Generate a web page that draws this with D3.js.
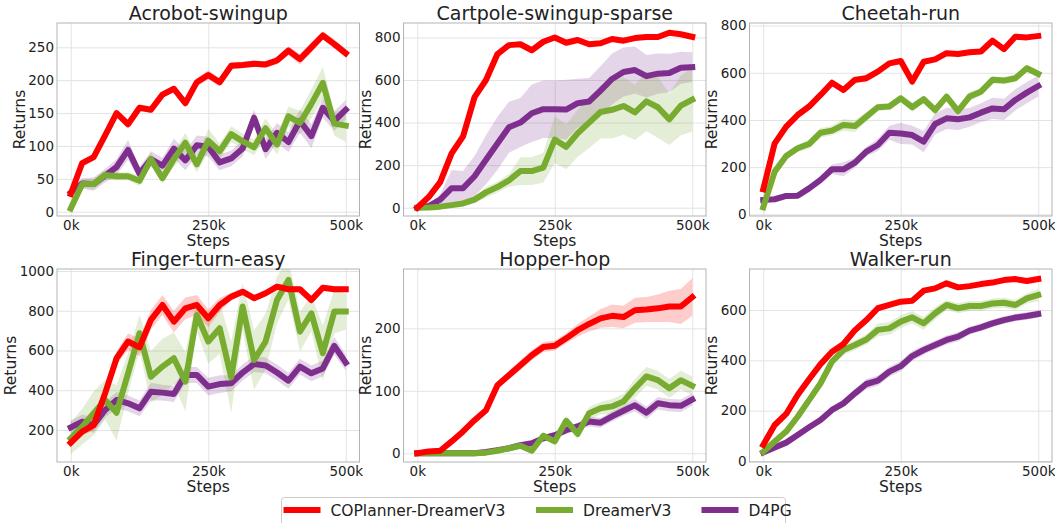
<!DOCTYPE html>
<html>
<head>
<meta charset="utf-8">
<script src="https://cdn.jsdelivr.net/npm/d3@7"></script>
<style>
  html, body { margin: 0; padding: 0; background: #fff; }
  svg { display: block; font-family: "DejaVu Sans", sans-serif; font-weight: 400; }
  text { font-family: "DejaVu Sans", sans-serif; font-weight: 400; }
</style>
</head>
<body>
<svg id="chart" width="1055" height="523"></svg>
<script>
// Evaluation steps (thousands of environment steps)
const steps = [0, 20.8, 41.7, 62.5, 83.3, 104.2, 125, 145.8, 166.7, 187.5, 208.3, 229.2, 250,
  270.8, 291.7, 312.5, 333.3, 354.2, 375, 395.8, 416.7, 437.5, 458.3, 479.2, 500];
const xTicks = [0, 250, 500];
const xTickLabels = ["0k", "250k", "500k"];

const methods = ["COPlanner-DreamerV3", "DreamerV3", "D4PG"];
const methodColors = ["#ff0000", "#77ac30", "#7e2f8e"];

const tasks = ["Acrobot-swingup", "Cartpole-swingup-sparse", "Cheetah-run",
  "Finger-turn-easy", "Hopper-hop", "Walker-run"];

// Mean returns and spread (half-width of shaded region) per task and method
const acrobotCOP     = [27, 74, 83, 116, 150, 133, 158, 155, 178, 187, 165, 197, 208, 197, 222, 223, 225, 224, 230, 245, 232, 250, 268, 255, 241];
const acrobotCOPSd   = [4, 5, 5, 6, 6, 6, 5, 5, 5, 5, 5, 6, 7, 6, 6, 5, 5, 5, 6, 7, 8, 8, 6, 7, 7];
const acrobotDV3     = [5, 42, 42, 56, 54, 54, 47, 80, 51, 80, 105, 72, 108, 92, 118, 107, 98, 127, 102, 145, 135, 164, 196, 134, 131];
const acrobotDV3Sd   = [4, 6, 8, 8, 6, 6, 8, 10, 8, 12, 15, 12, 18, 12, 12, 12, 12, 15, 15, 15, 18, 22, 24, 18, 25];
const acrobotD4PG    = [29, 43, 42, 55, 68, 94, 58, 80, 70, 96, 78, 101, 99, 75, 81, 96, 143, 95, 120, 106, 138, 115, 158, 138, 155];
const acrobotD4PGSd  = [6, 8, 10, 10, 12, 15, 10, 12, 12, 15, 15, 15, 15, 12, 12, 12, 12, 15, 15, 15, 18, 18, 15, 15, 15];

const cartpoleCOP    = [0, 50, 120, 255, 335, 520, 600, 722, 764, 768, 740, 780, 800, 775, 788, 768, 773, 793, 785, 797, 802, 802, 822, 815, 803];
const cartpoleCOPSd  = [2, 5, 10, 15, 15, 20, 15, 10, 8, 8, 8, 8, 8, 8, 8, 8, 8, 8, 8, 8, 8, 8, 8, 8, 8];
const cartpoleDV3    = [0, 1, 5, 12, 20, 38, 72, 97, 128, 172, 172, 188, 320, 286, 350, 400, 450, 460, 478, 448, 500, 472, 415, 480, 508];
const cartpoleDV3Sd  = [0, 1, 3, 6, 10, 12, 25, 25, 30, 65, 65, 70, 110, 105, 110, 120, 125, 135, 135, 130, 140, 145, 120, 140, 150];
const cartpoleD4PG   = [0, 8, 38, 92, 92, 148, 225, 302, 378, 400, 444, 463, 463, 461, 491, 499, 550, 605, 638, 647, 618, 630, 633, 658, 661];
const cartpoleD4PGSd = [0, 5, 25, 85, 80, 95, 115, 125, 120, 115, 135, 135, 135, 140, 115, 110, 115, 120, 115, 110, 100, 95, 90, 75, 70];

const cheetahCOP     = [106, 301, 372, 421, 457, 506, 558, 527, 570, 577, 605, 640, 650, 563, 647, 657, 683, 680, 687, 690, 736, 700, 753, 750, 756];
const cheetahCOPSd   = [8, 10, 10, 10, 10, 10, 10, 10, 15, 15, 12, 10, 10, 15, 12, 10, 10, 10, 10, 10, 12, 12, 12, 10, 10];
const cheetahDV3     = [30, 181, 247, 280, 298, 346, 355, 379, 374, 414, 454, 457, 492, 454, 488, 442, 499, 438, 499, 520, 570, 567, 577, 619, 595];
const cheetahDV3Sd   = [10, 15, 15, 15, 20, 20, 20, 25, 25, 20, 15, 15, 15, 20, 15, 20, 15, 20, 20, 15, 15, 15, 15, 15, 15];
const cheetahD4PG    = [61, 64, 78, 79, 110, 146, 191, 191, 219, 266, 294, 346, 343, 336, 308, 383, 407, 403, 411, 431, 449, 445, 485, 516, 544];
const cheetahD4PGSd  = [10, 10, 12, 12, 15, 15, 20, 30, 20, 20, 25, 30, 45, 40, 45, 45, 45, 45, 40, 40, 45, 45, 45, 45, 45];

const fingerCOP      = [136, 192, 225, 385, 561, 645, 616, 754, 829, 745, 812, 829, 762, 829, 871, 896, 863, 888, 921, 908, 908, 854, 916, 908, 908];
const fingerCOPSd    = [15, 20, 25, 30, 35, 40, 45, 50, 50, 55, 55, 50, 45, 35, 20, 15, 15, 15, 15, 15, 15, 20, 15, 15, 15];
const fingerDV3      = [158, 217, 284, 351, 287, 485, 687, 468, 519, 561, 443, 779, 645, 712, 465, 821, 552, 645, 854, 955, 695, 787, 586, 796, 796];
const fingerDV3Sd    = [80, 90, 110, 100, 140, 100, 90, 130, 140, 130, 150, 80, 110, 130, 180, 120, 150, 140, 120, 100, 100, 90, 140, 110, 90];
const fingerD4PG     = [213, 242, 225, 301, 351, 334, 309, 393, 388, 381, 477, 477, 418, 431, 435, 489, 532, 525, 489, 448, 519, 485, 510, 623, 539];
const fingerD4PGSd   = [35, 35, 40, 40, 40, 40, 40, 45, 40, 40, 40, 40, 45, 45, 40, 40, 40, 40, 40, 40, 40, 40, 40, 45, 40];

const hopperCOP      = [0, 3, 4, 19, 35, 53, 69, 109, 125, 141, 157, 170, 172, 184, 197, 207, 216, 220, 218, 229, 230, 232, 235, 235, 250];
const hopperCOPSd    = [1, 2, 3, 4, 5, 6, 6, 7, 7, 8, 8, 8, 8, 8, 10, 12, 15, 18, 18, 20, 20, 22, 25, 28, 30];
const hopperDV3      = [0, 0, 0, 0, 0, 0, 1, 4, 8, 12, 4, 28, 19, 52, 31, 64, 72, 75, 83, 104, 123, 117, 104, 117, 108];
const hopperDV3Sd    = [0, 0, 0, 0, 0, 0, 1, 2, 2, 3, 4, 6, 6, 8, 8, 10, 10, 12, 12, 15, 15, 15, 15, 15, 15];
const hopperD4PG     = [0, 0, 0, 0, 0, 0, 2, 5, 8, 13, 16, 24, 29, 37, 43, 51, 49, 59, 68, 77, 65, 80, 77, 76, 86];
const hopperD4PGSd   = [0, 0, 0, 0, 0, 0, 1, 2, 2, 3, 4, 5, 5, 6, 6, 8, 8, 8, 8, 10, 10, 10, 10, 10, 10];

const walkerCOP      = [64, 143, 187, 262, 325, 385, 434, 465, 520, 560, 607, 620, 633, 637, 677, 686, 706, 690, 695, 703, 709, 719, 723, 715, 723];
const walkerCOPSd    = [10, 10, 10, 10, 10, 10, 10, 10, 10, 10, 10, 10, 10, 8, 8, 8, 8, 8, 8, 8, 8, 8, 8, 8, 8];
const walkerDV3      = [37, 77, 117, 176, 242, 309, 395, 441, 461, 483, 521, 527, 554, 571, 547, 587, 620, 607, 616, 616, 626, 629, 620, 646, 660];
const walkerDV3Sd    = [5, 8, 10, 10, 12, 15, 15, 20, 20, 20, 25, 25, 25, 25, 25, 25, 20, 20, 20, 20, 20, 20, 20, 20, 25];
const walkerD4PG     = [34, 54, 73, 103, 134, 163, 203, 229, 269, 306, 319, 355, 377, 417, 441, 461, 481, 494, 518, 531, 547, 560, 570, 576, 584];
const walkerD4PGSd   = [5, 5, 8, 8, 10, 10, 12, 15, 18, 20, 20, 20, 20, 20, 18, 18, 18, 18, 15, 15, 15, 15, 15, 15, 15];

// Y tick values per task
const acrobotTicks  = [0, 50, 100, 150, 200, 250];
const cartpoleTicks = [0, 200, 400, 600, 800];
const cheetahTicks  = [0, 200, 400, 600, 800];
const fingerTicks   = [200, 400, 600, 800, 1000];
const hopperTicks   = [0, 100, 200];
const walkerTicks   = [0, 200, 400, 600];

// Panel definitions built from the arrays above
const panelData = [
  { title: tasks[0], ticks: acrobotTicks,  yDomain: [-6.5, 287], means: [acrobotCOP, acrobotDV3, acrobotD4PG],   sds: [acrobotCOPSd, acrobotDV3Sd, acrobotD4PGSd] },
  { title: tasks[1], ticks: cartpoleTicks, yDomain: [-39, 868],  means: [cartpoleCOP, cartpoleDV3, cartpoleD4PG], sds: [cartpoleCOPSd, cartpoleDV3Sd, cartpoleD4PGSd] },
  { title: tasks[2], ticks: cheetahTicks,  yDomain: [-7, 811],   means: [cheetahCOP, cheetahDV3, cheetahD4PG],    sds: [cheetahCOPSd, cheetahDV3Sd, cheetahD4PGSd] },
  { title: tasks[3], ticks: fingerTicks,   yDomain: [39, 1010],  means: [fingerCOP, fingerDV3, fingerD4PG],       sds: [fingerCOPSd, fingerDV3Sd, fingerD4PGSd] },
  { title: tasks[4], ticks: hopperTicks,   yDomain: [-14, 295],  means: [hopperCOP, hopperDV3, hopperD4PG],       sds: [hopperCOPSd, hopperDV3Sd, hopperD4PGSd] },
  { title: tasks[5], ticks: walkerTicks,   yDomain: [-4, 763],   means: [walkerCOP, walkerDV3, walkerD4PG],       sds: [walkerCOPSd, walkerDV3Sd, walkerD4PGSd] }
];

// Layout
const colLeft = [57, 403.5, 749.5];
const rowTop = [23, 269];
const plotW = 302.5, plotH = 193;
const tickFont = 13.5, labelFont = 15.5, titleFont = 19;
const FONT = "DejaVu Sans, sans-serif";
const TEXT_COLOR = "#222";

const svg = d3.select("#chart");

function styleText(sel, size) {
  sel.attr("font-size", size).attr("font-family", FONT).attr("font-weight", 400).attr("fill", TEXT_COLOR);
}

panelData.forEach((p, idx) => {
  const col = idx % 3, row = Math.floor(idx / 3);
  const g = svg.append("g").attr("transform", `translate(${colLeft[col]},${rowTop[row]})`);

  const x = d3.scaleLinear().domain([-25, 525]).range([0, plotW]);
  const y = d3.scaleLinear().domain(p.yDomain).range([plotH, 0]);

  // Grid + y axis
  const yAxis = d3.axisLeft(y).tickValues(p.ticks).tickFormat(d3.format("d"))
    .tickSizeInner(-plotW).tickSizeOuter(0).tickPadding(3);
  const yG = g.append("g").call(yAxis).attr("font-family", FONT).attr("font-weight", 400);
  yG.select(".domain").remove();
  yG.selectAll(".tick line").attr("stroke", "#e3e3e3").attr("stroke-width", 1);
  styleText(yG.selectAll(".tick text"), tickFont);

  const xAxis = d3.axisBottom(x).tickValues(xTicks).tickFormat((d, i) => xTickLabels[i])
    .tickSizeInner(-plotH).tickSizeOuter(0).tickPadding(4.5);
  const xG = g.append("g").attr("transform", `translate(0,${plotH})`).call(xAxis)
    .attr("font-family", FONT).attr("font-weight", 400);
  xG.select(".domain").remove();
  xG.selectAll(".tick line").attr("stroke", "#e3e3e3").attr("stroke-width", 1);
  styleText(xG.selectAll(".tick text"), tickFont);

  // Clip to plot area
  const clipId = `clip-${idx}`;
  g.append("clipPath").attr("id", clipId).append("rect")
    .attr("width", plotW).attr("height", plotH);
  const plot = g.append("g").attr("clip-path", `url(#${clipId})`);

  // Shaded spread, then mean lines; D4PG first, COPlanner on top
  [2, 1, 0].forEach(m => {
    const rows = steps.map((s, i) => ({ s, mean: p.means[m][i], sd: p.sds[m][i] }));
    const area = d3.area()
      .x(d => x(d.s))
      .y0(d => y(d.mean - d.sd))
      .y1(d => y(d.mean + d.sd));
    plot.append("path").datum(rows)
      .attr("d", area)
      .attr("fill", methodColors[m])
      .attr("fill-opacity", 0.2)
      .attr("stroke", "none");
  });
  [2, 1, 0].forEach(m => {
    const rows = steps.map((s, i) => ({ s, mean: p.means[m][i] }));
    const line = d3.line().x(d => x(d.s)).y(d => y(d.mean));
    plot.append("path").datum(rows)
      .attr("d", line)
      .attr("fill", "none")
      .attr("stroke", methodColors[m])
      .attr("stroke-width", 6)
      .attr("stroke-linejoin", "round")
      .attr("stroke-linecap", "square");
  });

  // Frame
  g.append("rect").attr("width", plotW).attr("height", plotH)
    .attr("fill", "none").attr("stroke", "#b3b3b3").attr("stroke-width", 1);

  // Title
  styleText(g.append("text").attr("x", plotW / 2).attr("y", -3.5)
    .attr("text-anchor", "middle").text(p.title), titleFont);

  // X label
  styleText(g.append("text").attr("x", plotW / 2).attr("y", plotH + 29.5)
    .attr("text-anchor", "middle").text("Steps"), labelFont);

  // Y label, placed left of the widest tick label
  let maxW = 0;
  yG.selectAll(".tick text").each(function () { maxW = Math.max(maxW, this.getComputedTextLength()); });
  styleText(g.append("text")
    .attr("transform", `translate(${-3 - maxW - 3.5},${plotH / 2}) rotate(-90)`)
    .attr("text-anchor", "middle").text("Returns"), labelFont);
});

// Legend
const legend = svg.append("g");
legend.append("rect").attr("x", 281.5).attr("y", 497.5).attr("width", 504).attr("height", 40)
  .attr("rx", 3).attr("fill", "#fff").attr("fill-opacity", 0.8)
  .attr("stroke", "#cccccc").attr("stroke-width", 1);
const legendX = [283.5, 536, 701.5];
methods.forEach((name, i) => {
  legend.append("line")
    .attr("x1", legendX[i]).attr("x2", legendX[i] + 37)
    .attr("y1", 510).attr("y2", 510)
    .attr("stroke", methodColors[i]).attr("stroke-width", 6);
  styleText(legend.append("text")
    .attr("x", legendX[i] + 47).attr("y", 516)
    .text(name), 15.5);
});
</script>
</body>
</html>
